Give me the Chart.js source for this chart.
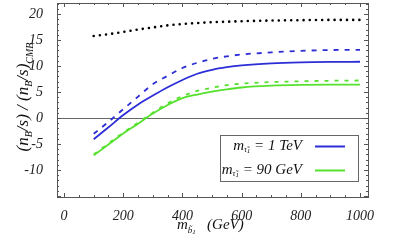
<!DOCTYPE html>
<html>
<head>
<meta charset="utf-8">
<script src="https://cdn.jsdelivr.net/npm/chart.js@4"></script>
<style>
  html, body { margin: 0; padding: 0; background: #fff; }
  #wrap { width: 415px; height: 247px; }
</style>
</head>
<body>
<div id="wrap"><canvas id="plot" width="415" height="247"></canvas></div>
<script>
// sbottom mass (GeV)
const massX = [100, 150, 200, 250, 300, 350, 400, 450, 500, 550, 600, 700, 800, 900, 1000];

// ratio values
const dottedTop   = [15.75, 16.1, 16.55, 17.0, 17.4, 17.8, 18.05, 18.25, 18.4, 18.5, 18.6, 18.72, 18.8, 18.85, 18.85];
const blueSolid   = [-4.1, -1.8, 0.55, 2.6, 4.3, 5.9, 7.3, 8.5, 9.25, 9.75, 10.1, 10.5, 10.7, 10.78, 10.8];
const blueDashed  = [-3.05, -0.75, 1.7, 4.1, 6.5, 8.1, 9.6, 10.6, 11.35, 11.85, 12.2, 12.6, 12.9, 13.05, 13.1];
const greenSolid  = [-7.2, -5.1, -3.0, -1.1, 0.85, 2.5, 3.8, 4.5, 5.05, 5.5, 5.85, 6.2, 6.35, 6.4, 6.4];
const greenDashed = [-7.0, -4.9, -2.8, -0.9, 1.0, 2.8, 4.2, 5.2, 5.8, 6.3, 6.6, 6.9, 7.05, 7.15, 7.2];

// axis ticks
const xTicks = [0, 200, 400, 600, 800, 1000];
const yTicks = [-10, -5, 0, 5, 10, 15, 20];

// legend entries
const legendValues = ['1 TeV', '90 GeV'];

const BLUE = 'rgb(45,45,215)';
const GREEN = 'rgb(85,225,45)';
const SERIF = '"Liberation Serif", "DejaVu Serif", serif';

function pts(ys) {
    return massX.map((x, i) => ({ x: x, y: ys[i] }));
}

// draws a list of text runs [text, size, dy] starting at x,y
function drawRuns(ctx, runs, x, y) {
    let cx = x;
    runs.forEach(r => {
        ctx.font = 'italic ' + r[1] + 'px ' + SERIF;
        ctx.fillText(r[0], cx, y + (r[2] || 0));
        cx += ctx.measureText(r[0]).width;
    });
    return cx - x;
}
function runsWidth(ctx, runs) {
    let w = 0;
    runs.forEach(r => {
        ctx.font = 'italic ' + r[1] + 'px ' + SERIF;
        w += ctx.measureText(r[0]).width;
    });
    return w;
}

const framePlugin = {
    id: 'frame',
    beforeDatasetsDraw(chart) {
        const ctx = chart.ctx;
        const a = chart.chartArea;
        const ys = chart.scales.y;
        ctx.save();
        // zero line
        ctx.strokeStyle = '#666';
        ctx.lineWidth = 1;
        const y0 = Math.round(ys.getPixelForValue(0)) + 0.5;
        ctx.beginPath();
        ctx.moveTo(a.left, y0);
        ctx.lineTo(a.right, y0);
        ctx.stroke();
        ctx.restore();
    },
    afterDatasetsDraw(chart) {
        const ctx = chart.ctx;
        const a = chart.chartArea;
        const xs = chart.scales.x, ys = chart.scales.y;
        ctx.save();
        ctx.strokeStyle = '#555';
        ctx.lineWidth = 1;
        ctx.strokeRect(Math.round(a.left) + 0.5, Math.round(a.top) + 0.5,
                       Math.round(a.right - a.left), Math.round(a.bottom - a.top));

        // inward ticks on all four sides
        ctx.beginPath();
        for (let v = 0; v <= 1000; v += 50) {
            const px = Math.round(xs.getPixelForValue(v)) + 0.5;
            const len = (v % 200 === 0) ? 4 : 2;
            ctx.moveTo(px, a.bottom); ctx.lineTo(px, a.bottom - len);
            ctx.moveTo(px, a.top); ctx.lineTo(px, a.top + len);
        }
        for (let v = -15; v <= 22; v += 1) {
            const py = Math.round(ys.getPixelForValue(v)) + 0.5;
            const len = (v % 5 === 0) ? 4 : 2;
            ctx.moveTo(a.left, py); ctx.lineTo(a.left + len, py);
            ctx.moveTo(a.right, py); ctx.lineTo(a.right - len, py);
        }
        ctx.stroke();

        // legend box
        const bx = 220, by = 135, bw = 138, bh = 46;
        ctx.fillStyle = '#fff';
        ctx.fillRect(bx, by, bw, bh);
        ctx.strokeStyle = '#666';
        ctx.strokeRect(bx + 0.5, by + 0.5, bw, bh);
        const rows = [[legendValues[0], BLUE, 146], [legendValues[1], GREEN, 170]];
        ctx.fillStyle = '#111';
        ctx.textBaseline = 'middle';
        rows.forEach(r => {
            const runs = [['m', 15, 0], ['τ\u0303', 8, 4], ['1', 7, 5], [' = ' + r[0], 15, 0]];
            const w = runsWidth(ctx, runs);
            drawRuns(ctx, runs, 302 - w, r[2]);
            ctx.strokeStyle = r[1];
            ctx.lineWidth = 2;
            ctx.beginPath();
            ctx.moveTo(315, r[2] + 0.5);
            ctx.lineTo(345, r[2] + 0.5);
            ctx.stroke();
        });

        // x axis title
        ctx.fillStyle = '#111';
        ctx.textBaseline = 'alphabetic';
        drawRuns(ctx, [['m', 15, 0], ['b\u0303', 9, 4], ['1', 7, 5], ['   (GeV)', 15, 0]], 177, 229);

        // y axis title, rotated
        ctx.translate(28, 97);
        ctx.rotate(-Math.PI / 2);
        const yr = [['(n', 17, 0], ['B', 10, 4], ['/s) / (n', 17, 0], ['B', 10, 4], ['/s)', 17, 0], ['CMB', 10, 5]];
        const yw = runsWidth(ctx, yr);
        drawRuns(ctx, yr, -yw / 2, 0);
        ctx.restore();
    }
};

const lineBase = {
    pointRadius: 0,
    fill: false,
    cubicInterpolationMode: 'monotone'
};

const plotData = {
    datasets: [
        Object.assign({ label: 'upper bound', data: pts(dottedTop), borderColor: '#000',
            borderWidth: 2.6, borderDash: [0, 6.2], borderCapStyle: 'round' }, lineBase),
        Object.assign({ label: '1 TeV dashed', data: pts(blueDashed), borderColor: BLUE,
            borderWidth: 1.8, borderDash: [5, 6] }, lineBase),
        Object.assign({ label: '1 TeV', data: pts(blueSolid), borderColor: BLUE,
            borderWidth: 1.8 }, lineBase),
        Object.assign({ label: '90 GeV dashed', data: pts(greenDashed), borderColor: GREEN,
            borderWidth: 1.8, borderDash: [4, 6] }, lineBase),
        Object.assign({ label: '90 GeV', data: pts(greenSolid), borderColor: GREEN,
            borderWidth: 1.8 }, lineBase)
    ]
};

const tickFont = { family: SERIF, style: 'italic', size: 14 };

const plotConfig = {
    type: 'line',
    data: plotData,
    options: {
        responsive: false,
        animation: false,
        layout: { padding: { top: 3, right: 47, left: 0, bottom: 0 } },
        plugins: { legend: { display: false }, tooltip: { enabled: false } },
        scales: {
            x: {
                type: 'linear',
                min: -24,
                max: 1027,
                afterBuildTicks: s => { s.ticks = xTicks.map(v => ({ value: v })); },
                afterFit: s => { s.height = 50; s.paddingLeft = 0; s.paddingRight = 0; },
                grid: { display: false },
                border: { display: false },
                ticks: { font: tickFont, color: '#222', padding: 3, maxRotation: 0,
                         callback: v => String(v) }
            },
            y: {
                type: 'linear',
                min: -15.2,
                max: 22.1,
                afterBuildTicks: s => { s.ticks = yTicks.map(v => ({ value: v })); },
                afterFit: s => { s.width = 57; s.paddingTop = 0; s.paddingBottom = 0; },
                grid: { display: false },
                border: { display: false },
                ticks: { font: tickFont, color: '#222', padding: 6, callback: v => String(v) }
            }
        }
    },
    plugins: [framePlugin]
};

window.chart = new Chart(document.getElementById('plot'), plotConfig);
</script>
</body>
</html>
